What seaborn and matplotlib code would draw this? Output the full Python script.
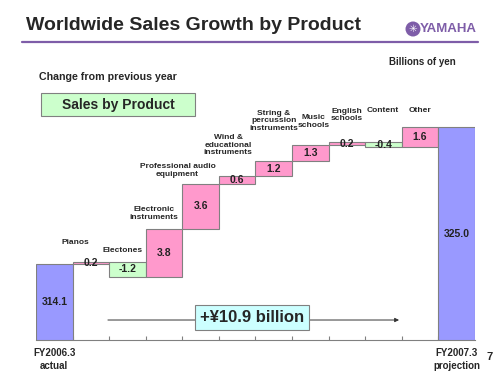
import matplotlib
matplotlib.use("Agg")
import matplotlib.pyplot as plt
from matplotlib.patches import Rectangle, Ellipse
import seaborn as sns
import numpy as np

# data
categories = ["FY2006.3\nactual", "Pianos", "Electones", "Electronic\ninstruments",
              "Professional audio\nequipment", "Wind &\neducational\ninstruments",
              "String &\npercussion\ninstruments", "Music\nschools", "English\nschools",
              "Content", "Other", "FY2007.3\nprojection"]
start_total = 314.1
changes = [0.2, -1.2, 3.8, 3.6, 0.6, 1.2, 1.3, 0.2, -0.4, 1.6]
end_total = 325.0
growth_text = "+¥10.9 billion"

# waterfall geometry from the data
levels = start_total + np.cumsum([0] + changes)
bottoms = [0] + list(np.minimum(levels[:-1], levels[1:])) + [0]
heights = [start_total] + [abs(c) for c in changes] + [end_total]
values = [start_total] + changes + [end_total]

pink = "#FF99CC"
green = "#CCFFCC"
blue = "#9999FF"
purple = "#7E5DA8"
colors = [blue] + [pink if c > 0 else green for c in changes] + [blue]

sns.set_style("white")
plt.rcParams["font.family"] = ["Liberation Sans", "DejaVu Sans"]
plt.rcParams["font.weight"] = "bold"

fig = plt.figure(figsize=(5, 3.75), dpi=100)
ax = fig.add_axes([0.072, 0.0933, 0.878, 0.64])
ymin, ymax = 308.08, 327.17
px_per_unit = 12.57

sns.barplot(x=list(range(len(categories))), y=heights, bottom=bottoms, width=1.0,
            color=blue, edgecolor="#808080", linewidth=0.8, ax=ax)
for patch, c in zip(ax.patches, colors):
    patch.set_facecolor(c)

ax.set_xlim(-0.5, len(categories) - 0.5)
ax.set_ylim(ymin, ymax)

# value labels at bar centers
for i, (b, h, v) in enumerate(zip(bottoms, heights, values)):
    lo = max(b, ymin)
    top = b + h
    ax.text(i, (lo + top) / 2, f"{v:.1f}", ha="center", va="center",
            fontsize=7.5, fontweight="bold", color="#222222")

# category labels above steps (offsets in pixels)
label_dx = [0, -15, -5, -10, -23, -9, 0, 3, 0, -1, 0, 0]
label_dy = [0, 16, 8, 8, 6, 20, 29, 16, 20, 28, 13, 0]
for i in range(1, len(categories) - 1):
    top = bottoms[i] + heights[i]
    ax.annotate(categories[i], xy=(i, top), xytext=(label_dx[i], label_dy[i]),
                textcoords="offset pixels", ha="center", va="bottom",
                fontsize=6, fontweight="bold", linespacing=1.15,
                annotation_clip=False)

# axis styling
for s in ["top", "right", "left"]:
    ax.spines[s].set_visible(False)
ax.spines["bottom"].set_color("#808080")
ax.set_yticks([])
ax.set_xticks([0, len(categories) - 1])
ax.set_xticklabels([categories[0], categories[-1]], fontsize=7, fontweight="bold",
                   linespacing=1.35)
ax.tick_params(axis="x", which="major", length=0, pad=6)
ax.set_xticks(np.arange(0.5, len(categories) - 1), minor=True)
ax.tick_params(axis="x", which="minor", bottom=True, direction="in", length=3,
               color="#808080", width=0.8)
ax.set_xlabel("")
ax.set_ylabel("")

# growth arrow and box
arrow_y = ymin + 20 / px_per_unit
ax.annotate("", xy=(9.5, arrow_y), xytext=(1.39, arrow_y),
            arrowprops=dict(arrowstyle="-|>", color="#333333", lw=0.7,
                            mutation_scale=6))
ax.text(5.4, ymin + 23 / px_per_unit, growth_text, ha="center", va="center",
        fontsize=12, fontweight="bold",
        bbox=dict(boxstyle="square,pad=0.3", facecolor="#CCFFFF", edgecolor="#808080",
                  linewidth=0.8))

# header
fig.text(0.052, 0.933, "Worldwide Sales Growth by Product", fontsize=14,
         fontweight="bold", va="center", ha="left")
fig.add_artist(plt.Line2D([0.044, 0.956], [1 - 41.5 / 375] * 2, color=purple, lw=1.6))
fig.text(0.954, 1 - 29 / 375, "YAMAHA", fontsize=9.5, fontweight="bold", color=purple,
         ha="right", va="center")
logo = Ellipse((413 / 500, 1 - 29 / 375), 15 / 500, 15 / 375, transform=fig.transFigure,
               facecolor=purple, edgecolor="none")
fig.add_artist(logo)
fig.text(413 / 500, 1 - 29.5 / 375, "✳", fontsize=7.5, color="white", ha="center",
         va="center", family=["DejaVu Sans"])
fig.text(0.845, 1 - 62 / 375, "Billions of yen", fontsize=7, fontweight="bold",
         ha="center", va="center")
fig.text(0.078, 1 - 77 / 375, "Change from previous year", fontsize=7.7,
         fontweight="bold", ha="left", va="center")
fig.add_artist(Rectangle((41 / 500, 1 - 116 / 375), 154 / 500, 23 / 375,
                         transform=fig.transFigure, facecolor="#CCFFCC",
                         edgecolor="#808080", linewidth=0.8))
fig.text(118 / 500, 1 - 104.5 / 375, "Sales by Product", fontsize=10,
         fontweight="bold", ha="center", va="center")
fig.text(0.98, 1 - 357 / 375, "7", fontsize=8, fontweight="bold", ha="center",
         va="center")

fig.savefig("out.png", dpi=100)
